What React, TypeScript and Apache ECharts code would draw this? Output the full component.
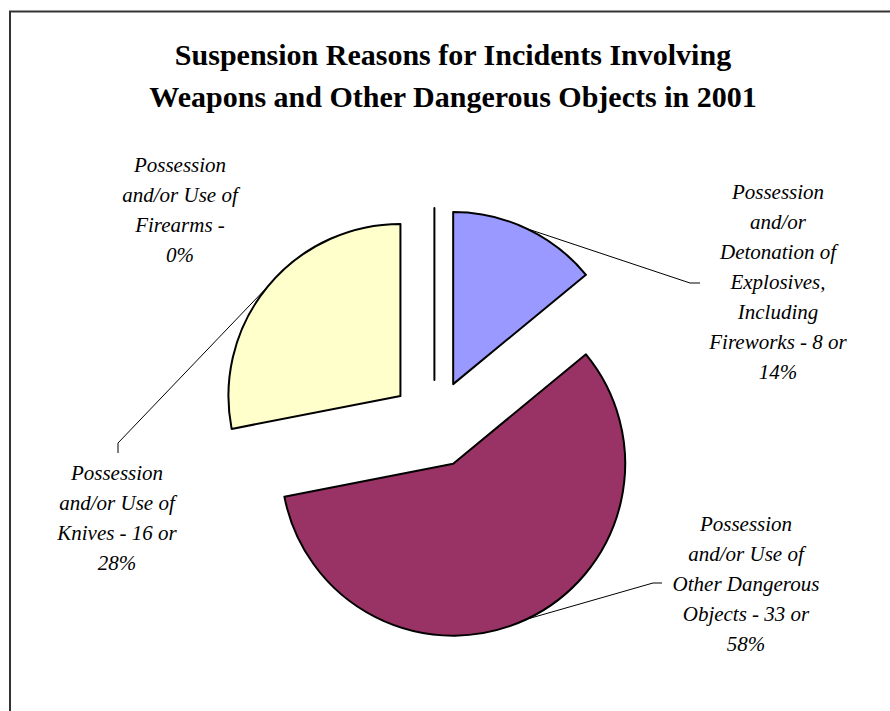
import React, { useEffect, useRef } from 'react';
import * as echarts from 'echarts';

// Data (Excel order: clockwise from 12 o'clock)
const categories = [
  'Possession and/or Detonation of Explosives, Including Fireworks',
  'Possession and/or Use of Other Dangerous Objects',
  'Possession and/or Use of Knives',
  'Possession and/or Use of Firearms',
];
const counts = [8, 33, 16, 0];
const labelTexts = [
  'Possession\nand/or\nDetonation of\nExplosives,\nIncluding\nFireworks - 8 or\n14%',
  'Possession\nand/or Use of\nOther Dangerous\nObjects - 33 or\n58%',
  'Possession\nand/or Use of\nKnives - 16 or\n28%',
  'Possession\nand/or Use of\nFirearms -\n0%',
];
const colors = ['#9999FF', '#993366', '#FFFFCC', '#CCFFFF'];
const titleText = 'Suspension Reasons for Incidents Involving\nWeapons and Other Dangerous Objects in 2001';

// Layout (positions, not data)
const CX = 434.4;
const CY = 423.9;
const R = 172;
const OFFSET = 44;
// label anchor: [centerX, topY]
const labelPos = [
  [778, 177],
  [746, 509],
  [117, 458],
  [180, 150],
];
// leader line bend + end points (null = no leader)
const leaderPts: (number[][] | null)[] = [
  [[690, 283], [700, 283]],
  [[653, 583], [662, 583]],
  [[118, 443], [118, 453]],
  null,
];

function midAngles(): number[] {
  const total = counts.reduce((a, b) => a + b, 0);
  let acc = 0;
  return counts.map((v) => {
    const a0 = (acc / total) * Math.PI * 2;
    acc += v;
    const a1 = (acc / total) * Math.PI * 2;
    return (a0 + a1) / 2; // clockwise from 12 o'clock
  });
}

export default function App() {
  const ref = useRef<HTMLDivElement>(null);
  useEffect(() => {
    document.body.style.margin = '0';
    const chart = echarts.init(ref.current!, null, { renderer: 'svg' });
    const mids = midAngles();

    // One pie per exploded slice: same data, only slice k is visible,
    // centre pushed outwards along the slice's bisector.
    const series = categories.map((_, k) => {
      const cx = CX + OFFSET * Math.sin(mids[k]);
      const cy = CY - OFFSET * Math.cos(mids[k]);
      return {
        type: 'pie',
        center: [cx, cy],
        radius: R,
        startAngle: 90,
        clockwise: true,
        silent: true,
        avoidLabelOverlap: false,
        emphasis: { disabled: true },
        label: {
          show: true,
          formatter: (p: any) => labelTexts[p.dataIndex],
          fontFamily: 'Liberation Serif',
          fontStyle: 'italic',
          fontSize: 21,
          lineHeight: 30,
          color: '#000',
          align: 'center',
        },
        labelLine: { show: true, lineStyle: { color: '#000', width: 1 } },
        labelLayout: (params: any) => {
          const i = params.dataIndex;
          if (i !== k) return {};
          const a = mids[i];
          const sx = cx + R * Math.sin(a);
          const sy = cy - R * Math.cos(a);
          const res: any = {
            x: labelPos[i][0],
            y: labelPos[i][1],
            align: 'center',
            verticalAlign: 'top',
          };
          const lp = leaderPts[i];
          if (lp) res.labelLinePoints = [[sx, sy], lp[0], lp[1]];
          return res;
        },
        data: categories.map((name, i) => ({
          name,
          value: counts[i],
          itemStyle:
            i === k
              ? { color: colors[i], borderColor: '#000', borderWidth: 2 }
              : { color: 'rgba(0,0,0,0)', borderWidth: 0 },
          label: { show: i === k },
          labelLine: { show: i === k && leaderPts[i] !== null },
        })),
      };
    });

    chart.setOption({
      animation: false,
      backgroundColor: '#ffffff',
      title: {
        text: titleText,
        left: 453,
        top: 33,
        textAlign: 'center',
        padding: 0,
        textStyle: {
          fontFamily: 'Liberation Serif',
          fontWeight: 'bold',
          fontSize: 30,
          lineHeight: 42,
          color: '#000',
        },
      },
      graphic: [
        {
          type: 'rect',
          shape: { x: 10, y: 11.5, width: 900, height: 720 },
          style: { fill: 'none', stroke: '#333', lineWidth: 2 },
          silent: true,
        },
      ],
      series,
    });
    return () => chart.dispose();
  }, []);
  return (
    <div
      ref={ref}
      style={{ position: 'absolute', left: 0, top: 0, width: 890, height: 711 }}
    />
  );
}
